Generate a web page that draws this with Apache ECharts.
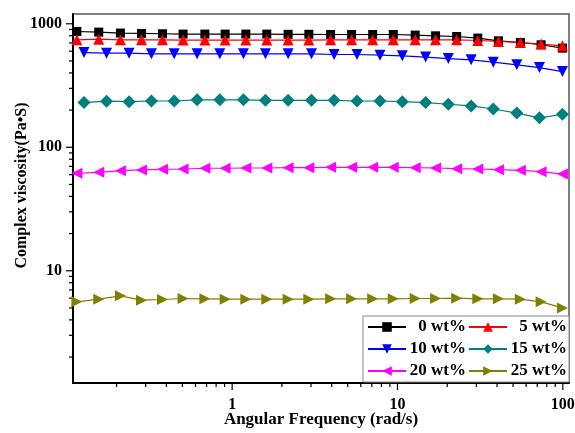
<!DOCTYPE html>
<html>
<head>
<meta charset="utf-8">
<script src="https://cdn.jsdelivr.net/npm/echarts@6/dist/echarts.min.js"></script>
<style>
  html, body { margin: 0; padding: 0; background: #fff; }
  #chart { width: 575px; height: 433px; }
</style>
</head>
<body>
<div id="chart"></div>
<script>
// Angular frequency sweeps (rad/s); two sampling grids were used
const freqA = [0.115, 0.156, 0.211, 0.283, 0.379, 0.505, 0.684, 0.907, 1.21, 1.62, 2.18, 2.91,
               3.94, 5.28, 7.08, 9.43, 12.8, 17.0, 22.8, 30.6, 40.8, 55.4, 73.9, 99.5];
const freqB = [0.127, 0.174, 0.238, 0.325, 0.446, 0.614, 0.842, 1.17, 1.59, 2.18, 3.02,
               4.14, 5.69, 7.84, 10.7, 14.8, 20.3, 27.9, 38.0, 52.7, 72.2, 99.5];

// Complex viscosity (Pa·s) for each filler loading
const visc0  = [866, 856, 841, 835, 830, 825, 825, 825, 825, 825, 822, 822,
                819, 819, 819, 819, 810, 799, 789, 766, 728, 705, 676, 635];
const visc5  = [742, 751, 742, 742, 742, 738, 738, 738, 738, 738, 738, 738,
                742, 742, 742, 742, 742, 742, 742, 732, 719, 705, 685, 663];
const visc10 = [585, 578, 578, 571, 571, 571, 571, 571, 571, 571, 571,
                564, 564, 557, 550, 537, 523, 511, 489, 465, 442, 410];
const visc15 = [230, 236, 234, 237, 237, 242, 242, 242, 240, 240, 240,
                240, 237, 237, 234, 230, 223, 216, 204, 189, 173, 185];
const visc20 = [61.5, 62.7, 64.6, 65.5, 66.3, 66.7, 67.6, 67.6, 67.9, 67.9, 68.3, 68.3,
                68.8, 68.8, 68.8, 68.8, 68.3, 67.9, 67.1, 66.7, 65.8, 65.1, 63.4, 60.7];
const visc25 = [5.6, 5.89, 6.26, 5.78, 5.85, 5.96, 5.92, 5.89, 5.89, 5.89, 5.89, 5.89,
                5.92, 5.92, 5.92, 5.92, 5.96, 5.96, 6.0, 5.92, 5.92, 5.89, 5.6, 5.0];

const seriesNames = ['0 wt%', '5 wt%', '10 wt%', '15 wt%', '20 wt%', '25 wt%'];

// Axis ranges
const X_MIN = 0.109, X_MAX = 109;
const Y_MIN = 1.233, Y_MAX = 1200;

// Tick positions on the log axes
const xMajorTicks = [1, 10, 100];
const xMinorTicks = [0.2, 0.3, 0.4, 0.5, 0.6, 0.7, 0.8, 0.9, 2, 3, 4, 5, 6, 7, 8, 9,
                     20, 30, 40, 50, 60, 70, 80, 90];
const yMajorTicks = [10, 100, 1000];
const yMinorTicks = [2, 3, 4, 5, 6, 7, 8, 9, 20, 30, 40, 50, 60, 70, 80, 90,
                     200, 300, 400, 500, 600, 700, 800, 900];

const FONT = "'Liberation Serif', 'Times New Roman', serif";

function pairs(xs, ys) { return xs.map((x, i) => [x, ys[i]]); }

function curve(name, xs, ys, color, symbol, size, rotate) {
  return {
    name, type: 'line', data: pairs(xs, ys),
    symbol, symbolSize: size, symbolRotate: rotate || 0,
    itemStyle: { color },
    lineStyle: { color, width: 1.2 },
    z: 5
  };
}

// Outward tick marks drawn on the bottom or left edge of the plot area
function ticks(values, dir, len) {
  return {
    type: 'custom', silent: true, clip: false, z: 3,
    data: values.map(v => dir === 'x' ? [v, Y_MIN] : [X_MIN, v]),
    renderItem(params, api) {
      const p = api.coord([api.value(0), api.value(1)]);
      const cs = params.coordSys;
      const shape = dir === 'x'
        ? { x1: p[0], y1: cs.y + cs.height, x2: p[0], y2: cs.y + cs.height + len }
        : { x1: cs.x, y1: p[1], x2: cs.x - len, y2: p[1] };
      return { type: 'line', shape, style: { stroke: '#000', lineWidth: 1.2 } };
    }
  };
}

const chart = echarts.init(document.getElementById('chart'), null, { renderer: 'canvas' });

chart.setOption({
  animation: false,
  backgroundColor: '#fff',
  grid: {
    left: 73, right: 6, top: 14, bottom: 50,
    show: true, borderColor: '#555', borderWidth: 1.5,
    outerBoundsMode: 'none'
  },
  legend: {
    data: seriesNames,
    left: 363, top: 316, width: 205,
    orient: 'horizontal',
    padding: [1, 2, 1, 4],
    itemGap: 2, itemWidth: 38, itemHeight: 12,
    backgroundColor: '#fff', borderColor: '#888', borderWidth: 1,
    formatter: name => '{t|' + name + '}',
    textStyle: {
      rich: {
        t: {
          width: 55, align: 'right', lineHeight: 20, height: 20,
          fontFamily: FONT, fontWeight: 'bold', fontSize: 17, color: '#000'
        }
      }
    }
  },
  xAxis: {
    type: 'log', logBase: 10, min: X_MIN, max: X_MAX,
    name: 'Angular Frequency (rad/s)', nameLocation: 'middle', nameGap: 28,
    nameMoveOverlap: false,
    nameTextStyle: { fontFamily: FONT, fontWeight: 'bold', fontSize: 17, color: '#000' },
    axisLine: { show: true, lineStyle: { color: '#000', width: 2 } },
    axisTick: { show: false },
    splitLine: { show: false },
    minorTick: { show: false },
    axisLabel: {
      margin: 14, showMinLabel: false, showMaxLabel: false,
      fontFamily: FONT, fontWeight: 'bold', fontSize: 16, color: '#000',
      formatter: v => String(Math.round(v))
    }
  },
  yAxis: {
    type: 'log', logBase: 10, min: Y_MIN, max: Y_MAX,
    name: 'Complex viscosity(Pa•S)', nameLocation: 'middle', nameGap: 43,
    nameMoveOverlap: false,
    nameTextStyle: {
      fontFamily: FONT, fontWeight: 'bold', fontSize: 16, color: '#000',
      padding: [0, 0, 0, 26]
    },
    axisLine: { show: true, lineStyle: { color: '#000', width: 2 } },
    axisTick: { show: false },
    splitLine: { show: false },
    minorTick: { show: false },
    axisLabel: {
      margin: 11, showMinLabel: false, showMaxLabel: false,
      fontFamily: FONT, fontWeight: 'bold', fontSize: 16, color: '#000',
      formatter: v => String(Math.round(v))
    }
  },
  series: [
    curve(seriesNames[0], freqA, visc0,  '#000000', 'rect', 9),
    curve(seriesNames[1], freqA, visc5,  '#ff0000', 'triangle', 11),
    curve(seriesNames[2], freqB, visc10, '#0000ff', 'triangle', 11, 180),
    curve(seriesNames[3], freqB, visc15, '#007f7f', 'diamond', 13),
    curve(seriesNames[4], freqA, visc20, '#ff00ff', 'triangle', 11, 90),
    curve(seriesNames[5], freqA, visc25, '#808000', 'triangle', 11, -90),
    ticks(xMajorTicks, 'x', 7),
    ticks(xMinorTicks, 'x', 4),
    ticks(yMajorTicks, 'y', 7),
    ticks(yMinorTicks, 'y', 4)
  ]
});
</script>
</body>
</html>
